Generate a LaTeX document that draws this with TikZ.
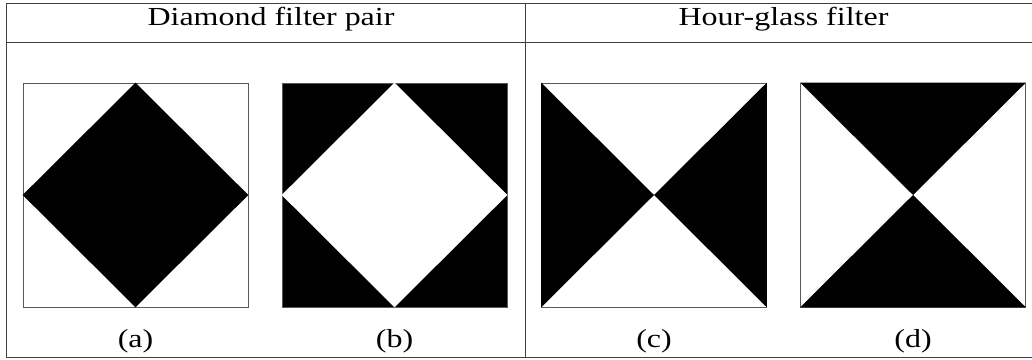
\documentclass[tikz,border=0pt]{standalone}
\usepackage{fontspec}
\setmainfont{Liberation Serif}
\usetikzlibrary{positioning}
\newcommand{\wide}[1]{\scalebox{1.23}[1]{#1}}

\begin{document}
\begin{tikzpicture}[x=1pt, y=-1pt,
  rule/.style={draw=black!75, line width=0.9pt},
  sq/.style={draw=black!65, line width=0.6pt, inner sep=0pt, minimum width=225pt, minimum height=224pt},
  captxt/.style={font=\fontsize{26}{30}\selectfont, anchor=base, inner sep=0pt}]
  \useasboundingbox (0,0) rectangle (1032,359);
  % table rules
  \draw[rule] (6,357.5) -- (6,3.5) -- (1040,3.5);
  \draw[rule] (6,42) -- (1040,42);
  \draw[rule] (6,357.5) -- (1040,357.5);
  \draw[rule] (525,3.5) -- (525,357.5);
  \node[captxt] (hdia) at (271,25) {\wide{Diamond filter pair}};
  \node[captxt] (hhour) at (783.5,25) {\wide{Hour-glass filter}};
  % the four filters
  \node[sq] (sqa) at (135.5,195) {};
  \node[sq, fill=black] (sqb) at (394.5,195) {};
  \node[sq] (sqc) at (654,195) {};
  \node[sq] (sqd) at (913,195) {};
  \fill (sqa.north) -- (sqa.east) -- (sqa.south) -- (sqa.west) -- cycle;
  \fill[white] (sqb.north) -- (sqb.east) -- (sqb.south) -- (sqb.west) -- cycle;
  \fill (sqc.north west) -- (sqc.center) -- (sqc.south west) -- cycle;
  \fill (sqc.north east) -- (sqc.center) -- (sqc.south east) -- cycle;
  \fill (sqd.north west) -- (sqd.center) -- (sqd.north east) -- cycle;
  \fill (sqd.south west) -- (sqd.center) -- (sqd.south east) -- cycle;
  % captions
  \coordinate (capline) at (0,347);
  \node[captxt] (lbla) at (sqa.south |- capline) {\wide{(a)}};
  \node[captxt] (lblb) at (sqb.south |- capline) {\wide{(b)}};
  \node[captxt] (lblc) at (sqc.south |- capline) {\wide{(c)}};
  \node[captxt] (lbld) at (sqd.south |- capline) {\wide{(d)}};
\end{tikzpicture}
\end{document}
